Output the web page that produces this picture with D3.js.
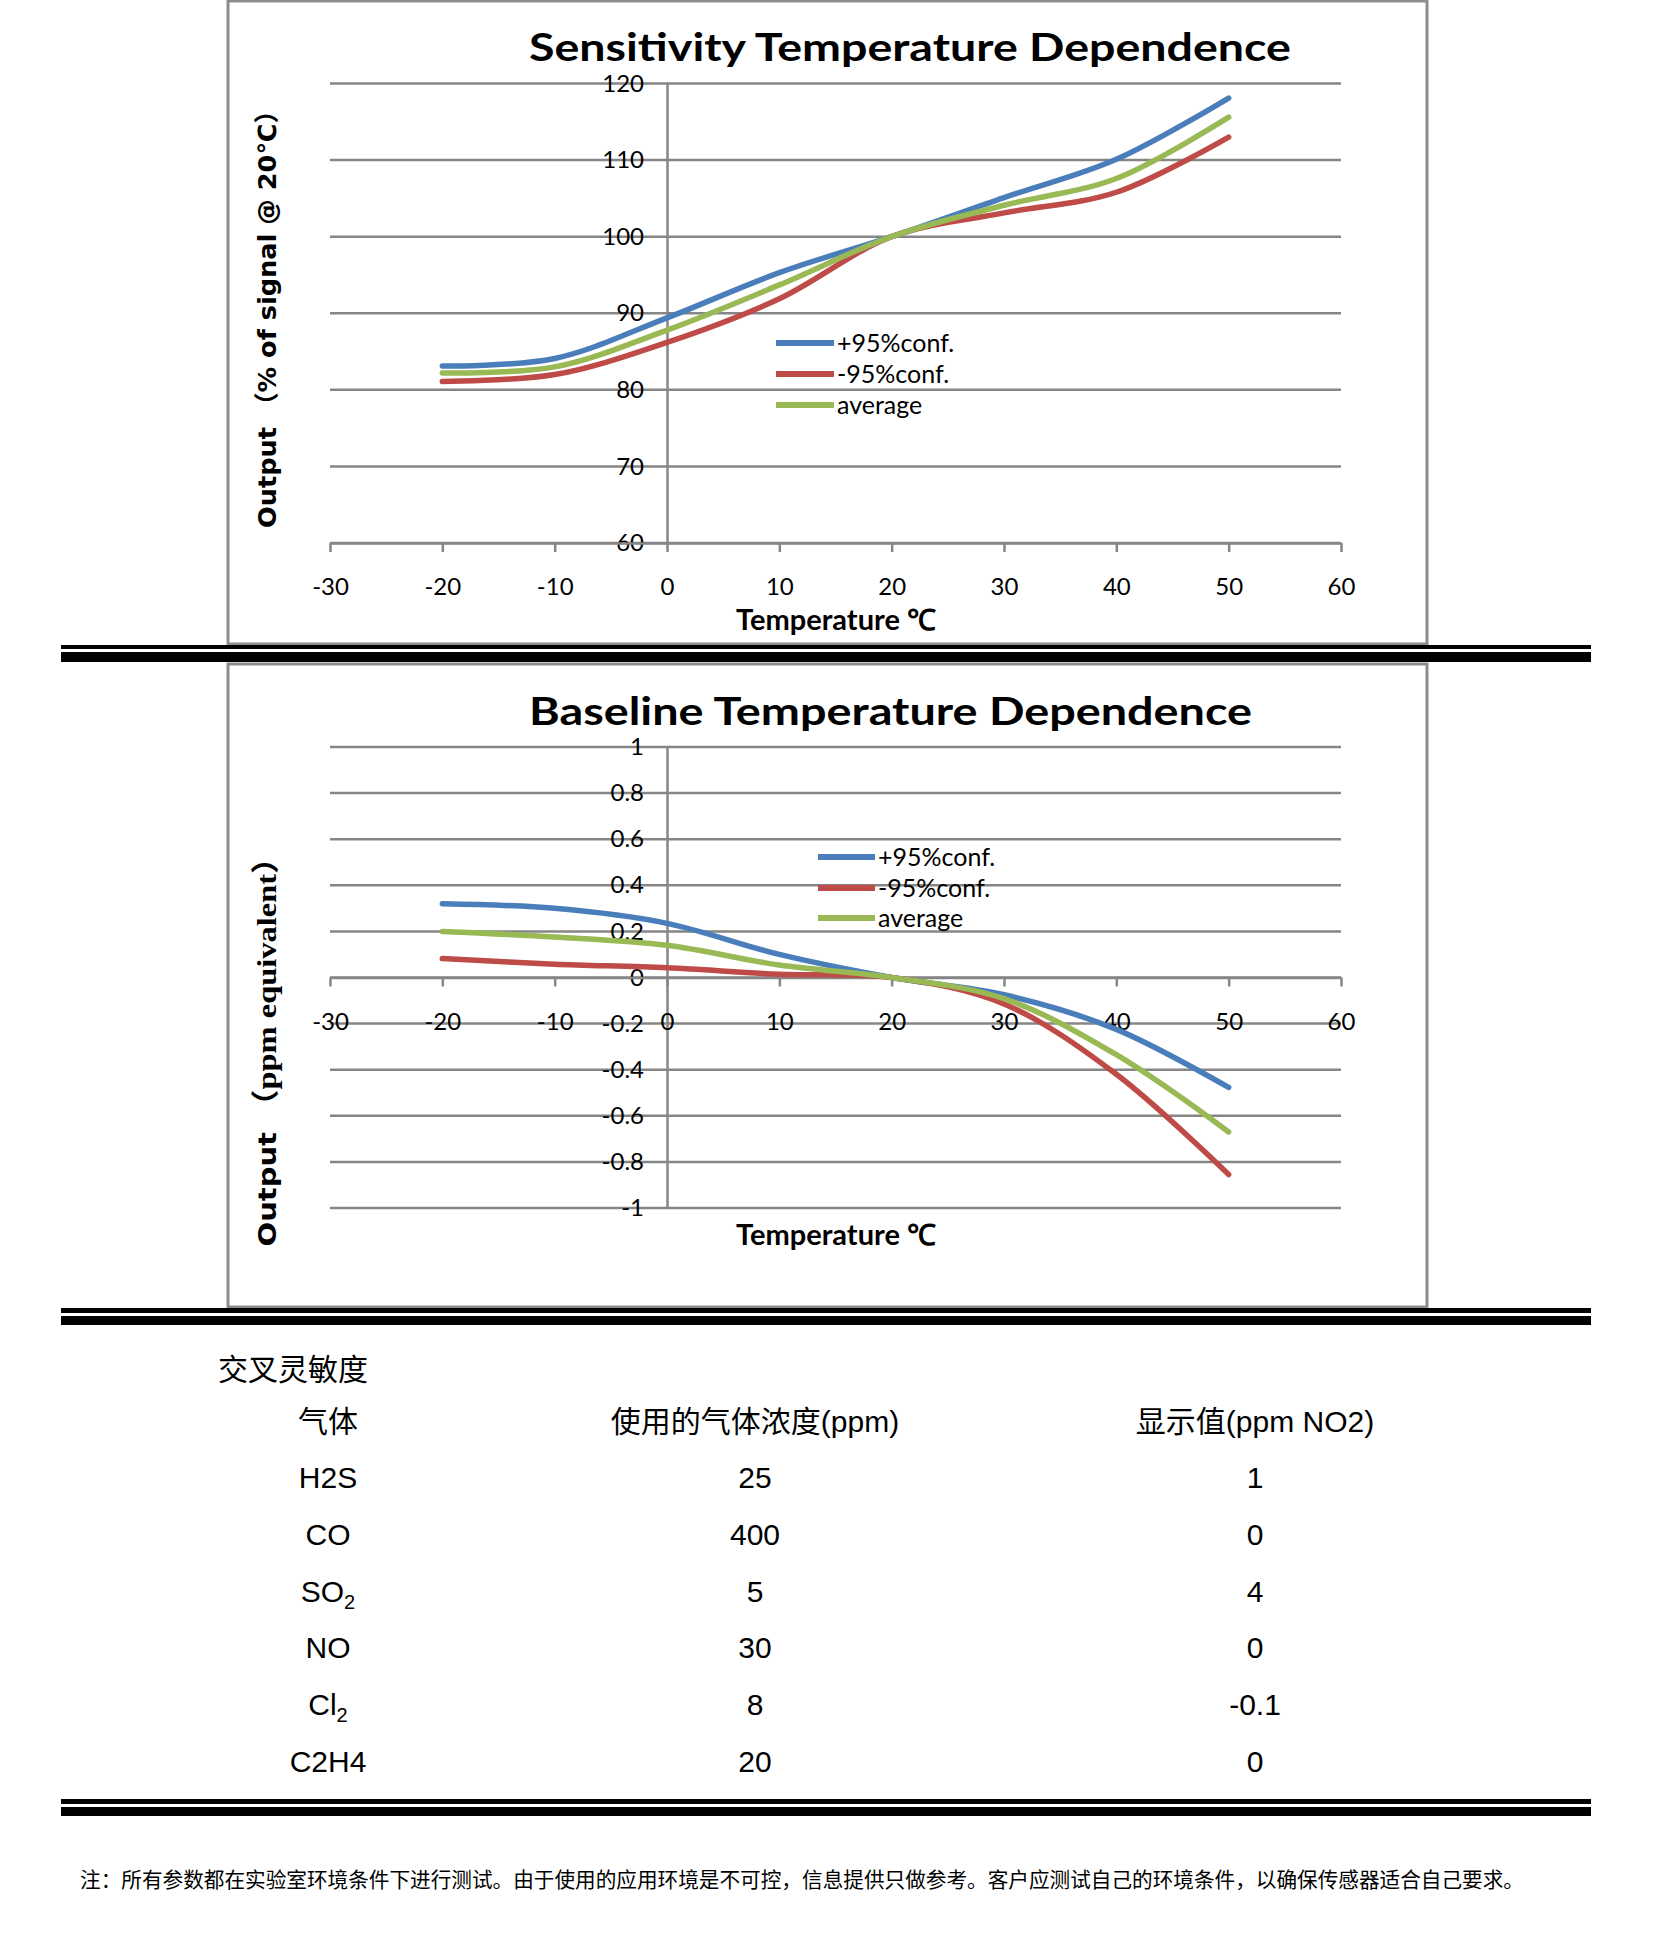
<!DOCTYPE html>
<html>
<head>
<meta charset="utf-8">
<script src="https://cdn.jsdelivr.net/npm/d3@7"></script>
<style>
  body { margin: 0; background: #fff; }
</style>
</head>
<body>
<div id="page"></div>
<script>
// ---- data ----
const temps = [-20, -10, 0, 10, 20, 30, 40, 50];
const xTicks = [-30, -20, -10, 0, 10, 20, 30, 40, 50, 60];

const seriesNames = ["+95%conf.", "-95%conf.", "average"];
const seriesColors = ["#4A7EBB", "#BE4B48", "#98B954"];

// Sensitivity (% of signal @ 20C)
const sensUpper = [83.1, 84.1, 89.4, 95.3, 100, 105.1, 110.1, 118.1];
const sensLower = [81.1, 82.0, 86.2, 91.9, 100, 103.1, 105.8, 113.0];
const sensAvg   = [82.2, 83.0, 87.8, 93.7, 100, 104.1, 107.6, 115.6];
const sensTicks = [60, 70, 80, 90, 100, 110, 120];

// Baseline (ppm equivalent)
const baseUpper = [0.32, 0.30, 0.235, 0.10, 0, -0.075, -0.225, -0.477];
const baseLower = [0.082, 0.058, 0.042, 0.014, 0, -0.115, -0.42, -0.855];
const baseAvg   = [0.20, 0.176, 0.14, 0.054, 0, -0.092, -0.335, -0.67];
const baseTicks = [-1, -0.8, -0.6, -0.4, -0.2, 0, 0.2, 0.4, 0.6, 0.8, 1];

// cross sensitivity table
const tableTitle = "交叉灵敏度";
const tableHeads = ["气体", "使用的气体浓度(ppm)", "显示值(ppm NO2)"];
const gasNames = [["H2S"], ["CO"], ["SO", "2"], ["NO"], ["Cl", "2"], ["C2H4"]];
const gasConc = ["25", "400", "5", "30", "8", "20"];
const gasReading = ["1", "0", "4", "0", "-0.1", "0"];

const footNote = "注：所有参数都在实验室环境条件下进行测试。由于使用的应用环境是不可控，信息提供只做参考。客户应测试自己的环境条件，以确保传感器适合自己要求。";

// ---- page ----
const W = 1654, H = 1948;
const svg = d3.select("#page").append("svg")
    .attr("width", W).attr("height", H)
    .style("display", "block");
svg.append("rect").attr("width", W).attr("height", H).attr("fill", "#fff");

const gridColor = "#868686";
const chartFont = "Lato, 'Open Sans', sans-serif";

const xScale = d3.scaleLinear().domain([-30, 60]).range([330, 1341]);

function drawChart(cfg) {
    let g = svg.append("g");

    // frame
    g.append("rect")
        .attr("x", 228).attr("y", cfg.boxTop)
        .attr("width", 1199).attr("height", cfg.boxBottom - cfg.boxTop)
        .attr("fill", "none")
        .attr("stroke", "#8c8c8c")
        .attr("stroke-width", 3);

    let yScale = d3.scaleLinear().domain(cfg.yDomain).range(cfg.yRange);

    // horizontal grid
    g.selectAll(".grid")
        .data(cfg.yTicks)
        .enter()
        .append("line")
        .attr("x1", xScale(-30)).attr("x2", xScale(60))
        .attr("y1", d => yScale(d)).attr("y2", d => yScale(d))
        .attr("stroke", gridColor)
        .attr("stroke-width", 2.5);

    // y axis (labels only, at x = 0)
    let yAxis = g.append("g")
        .attr("transform", "translate(" + xScale(0) + ",0)")
        .call(d3.axisLeft(yScale).tickValues(cfg.yTicks).tickSize(0).tickPadding(23)
            .tickFormat(d => String(d)));
    yAxis.select(".domain").attr("stroke", gridColor).attr("stroke-width", 2.5);
    yAxis.selectAll("text")
        .attr("font-family", chartFont)
        .attr("font-size", 24)
        .attr("fill", "#000");

    // x axis
    let xAxis = g.append("g")
        .attr("transform", "translate(0," + yScale(cfg.axisAt) + ")")
        .call(d3.axisBottom(xScale).tickValues(xTicks).tickSize(9).tickSizeOuter(0).tickPadding(26)
            .tickFormat(d => String(d)));
    xAxis.select(".domain").attr("stroke", gridColor).attr("stroke-width", 2.5);
    xAxis.selectAll("line").attr("stroke", gridColor).attr("stroke-width", 2.5);
    xAxis.selectAll("text")
        .attr("font-family", chartFont)
        .attr("font-size", 24)
        .attr("fill", "#000");

    // curves
    let line = d3.line()
        .x((d, i) => xScale(temps[i]))
        .y(d => yScale(d))
        .curve(d3.curveCatmullRom.alpha(0.5));

    g.selectAll(".series")
        .data(cfg.series)
        .enter()
        .append("path")
        .attr("d", d => line(d))
        .attr("fill", "none")
        .attr("stroke", (d, i) => seriesColors[i])
        .attr("stroke-width", 5.5)
        .attr("stroke-linecap", "round");

    // legend
    let leg = g.selectAll(".leg")
        .data(seriesNames)
        .enter()
        .append("g");
    leg.append("line")
        .attr("x1", cfg.legX1).attr("x2", cfg.legX2)
        .attr("y1", (d, i) => cfg.legY[i]).attr("y2", (d, i) => cfg.legY[i])
        .attr("stroke", (d, i) => seriesColors[i])
        .attr("stroke-width", 6);
    leg.append("text")
        .attr("x", cfg.legX2 + 3)
        .attr("y", (d, i) => cfg.legY[i])
        .attr("dy", "0.35em")
        .attr("font-family", chartFont)
        .attr("font-size", 25)
        .text(d => d);

    // title
    g.append("text")
        .attr("x", 529).attr("y", cfg.titleY)
        .attr("font-family", chartFont)
        .attr("font-weight", 700)
        .attr("font-size", 39)
        .attr("textLength", cfg.titleLen)
        .attr("lengthAdjust", "spacingAndGlyphs")
        .text(cfg.title);

    // x title
    g.append("text")
        .attr("x", 836).attr("y", cfg.xTitleY)
        .attr("dy", "0.35em")
        .attr("text-anchor", "middle")
        .attr("font-family", chartFont)
        .attr("font-weight", 700)
        .attr("font-size", 29)
        .text("Temperature ℃");

    // y title
    let yt = g.append("text")
        .attr("transform", "translate(267," + cfg.yTitleY + ") rotate(-90)")
        .attr("dy", "0.35em")
        .attr("text-anchor", "middle")
        .attr("font-family", "'DejaVu Sans', sans-serif")
        .attr("font-weight", 700)
        .attr("font-size", 25)
        .attr("textLength", cfg.yTitleLen)
        .attr("lengthAdjust", "spacingAndGlyphs");
    yt.append("tspan").text("Output ");
    yt.append("tspan")
        .attr("font-family", cfg.yTitleFont2)
        .attr("font-size", cfg.yTitleSize2)
        .text(cfg.yTitleRest);
}

drawChart({
    boxTop: 1, boxBottom: 644,
    yDomain: [60, 120], yRange: [543, 83.5], yTicks: sensTicks, axisAt: 60,
    series: [sensUpper, sensLower, sensAvg],
    legX1: 776, legX2: 834, legY: [343, 374, 405],
    title: "Sensitivity Temperature Dependence", titleY: 61, titleLen: 762,
    xTitleY: 620,
    yTitleY: 313, yTitleLen: 430,
    yTitleFont2: "'DejaVu Sans', 'Noto Sans CJK SC', sans-serif", yTitleSize2: 25,
    yTitleRest: "（% of signal  @ 20℃）"
});

drawChart({
    boxTop: 664, boxBottom: 1307,
    yDomain: [-1, 1], yRange: [1208, 747], yTicks: baseTicks, axisAt: 0,
    series: [baseUpper, baseLower, baseAvg],
    legX1: 818, legX2: 875, legY: [857, 888, 918],
    title: "Baseline Temperature Dependence", titleY: 725, titleLen: 723,
    xTitleY: 1235,
    yTitleY: 1044, yTitleLen: 405,
    yTitleFont2: "'Liberation Serif', 'Noto Sans CJK SC', serif", yTitleSize2: 28,
    yTitleRest: "（ppm equivalent）"
});

// double rules
const rules = [
    {thin: 647, thinW: 4, thick: 657, thickW: 10},
    {thin: 1310.5, thinW: 5, thick: 1320.5, thickW: 9},
    {thin: 1801.5, thinW: 5, thick: 1811.5, thickW: 9}
];
rules.forEach(r => {
    svg.append("line").attr("x1", 61).attr("x2", 1591)
        .attr("y1", r.thin).attr("y2", r.thin)
        .attr("stroke", "#000").attr("stroke-width", r.thinW);
    svg.append("line").attr("x1", 61).attr("x2", 1591)
        .attr("y1", r.thick).attr("y2", r.thick)
        .attr("stroke", "#000").attr("stroke-width", r.thickW);
});

// ---- table ----
const tableFont = "'Liberation Sans', Arial, 'Noto Sans CJK SC', sans-serif";
const colX = [328, 755, 1255];
const rowY = d3.scaleBand().domain(d3.range(gasNames.length)).range([1449, 1790]);

svg.append("text")
    .attr("x", 218).attr("y", 1369).attr("dy", "0.35em")
    .attr("font-family", "'Noto Sans CJK SC', sans-serif")
    .attr("font-size", 30)
    .text(tableTitle);

svg.selectAll(".head")
    .data(tableHeads)
    .enter()
    .append("text")
    .attr("x", (d, i) => colX[i]).attr("y", 1421).attr("dy", "0.35em")
    .attr("text-anchor", "middle")
    .attr("font-family", tableFont)
    .attr("font-size", 30)
    .text(d => d);

let rows = svg.selectAll(".row")
    .data(gasNames)
    .enter()
    .append("g")
    .attr("transform", (d, i) => "translate(0," + (rowY(i) + rowY.bandwidth() / 2) + ")");

let nameText = rows.append("text")
    .attr("x", colX[0]).attr("dy", "0.35em")
    .attr("text-anchor", "middle")
    .attr("font-family", tableFont)
    .attr("font-size", 30);
nameText.append("tspan").text(d => d[0]);
nameText.filter(d => d.length > 1)
    .append("tspan")
    .attr("font-size", 20)
    .attr("dy", 7)
    .text(d => d[1]);

rows.append("text")
    .attr("x", colX[1]).attr("dy", "0.35em")
    .attr("text-anchor", "middle")
    .attr("font-family", tableFont)
    .attr("font-size", 30)
    .text((d, i) => gasConc[i]);

rows.append("text")
    .attr("x", colX[2]).attr("dy", "0.35em")
    .attr("text-anchor", "middle")
    .attr("font-family", tableFont)
    .attr("font-size", 30)
    .text((d, i) => gasReading[i]);

// footnote
svg.append("text")
    .attr("x", 80).attr("y", 1880).attr("dy", "0.35em")
    .attr("font-family", "'Noto Sans CJK SC', sans-serif")
    .attr("font-size", 21)
    .attr("textLength", 1444)
    .attr("lengthAdjust", "spacingAndGlyphs")
    .text(footNote);
</script>
</body>
</html>
